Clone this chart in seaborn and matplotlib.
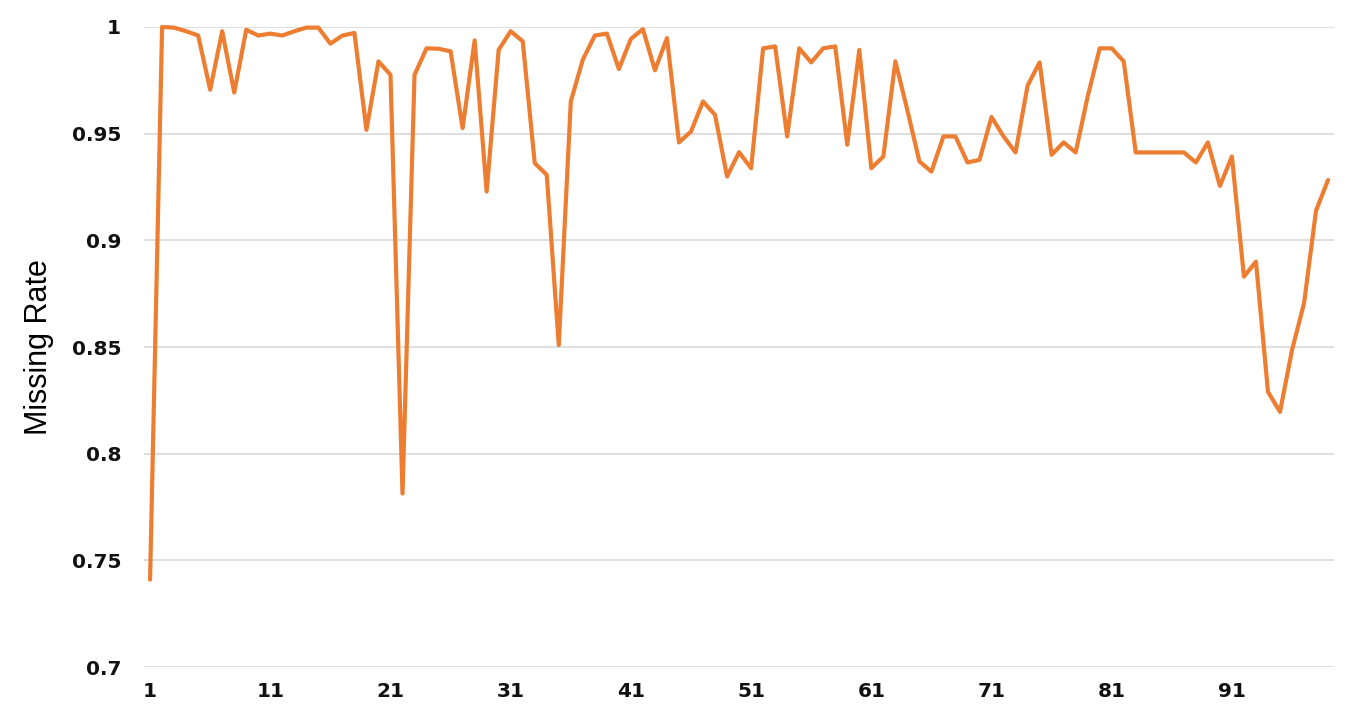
import matplotlib
matplotlib.use('Agg')
import matplotlib.pyplot as plt
import seaborn as sns
import pandas as pd

# Datos: tasa de valores faltantes por variable
indice = list(range(1, 100))
tasa_faltante = [
    0.741, 1.000, 0.9997, 0.998, 0.996, 0.9706, 0.998, 0.9693, 0.9987, 0.996,
    0.9969, 0.996, 0.998, 0.9997, 0.9997, 0.9922, 0.996, 0.9972, 0.9518, 0.9839,
    0.9776, 0.7813, 0.9776, 0.990, 0.9898, 0.9886, 0.9526, 0.9937, 0.9229, 0.9893,
    0.998, 0.9933, 0.9362, 0.9307, 0.8509, 0.9651, 0.9847, 0.996, 0.9969, 0.9803,
    0.9944, 0.999, 0.9797, 0.9948, 0.9459, 0.951, 0.9651, 0.9588, 0.9299, 0.9413,
    0.9338, 0.990, 0.9909, 0.9487, 0.990, 0.9834, 0.990, 0.9909, 0.9448, 0.9893,
    0.9338, 0.9393, 0.9839, 0.961, 0.937, 0.9322, 0.9487, 0.9487, 0.9365, 0.9377,
    0.9578, 0.9487, 0.9412, 0.9725, 0.9834, 0.9401, 0.9459, 0.9412, 0.9674, 0.990,
    0.990, 0.9839, 0.9412, 0.9412, 0.9412, 0.9412, 0.9412, 0.9365, 0.9459, 0.9255,
    0.9393, 0.883, 0.890, 0.829, 0.8196, 0.8486, 0.8705, 0.914, 0.9283,
]
ticks_x = [1, 11, 21, 31, 41, 51, 61, 71, 81, 91]
ticks_y = [0.7, 0.75, 0.8, 0.85, 0.9, 0.95, 1.0]
etiquetas_y = ['0.7', '0.75', '0.8', '0.85', '0.9', '0.95', '1']

df = pd.DataFrame({'indice': indice, 'tasa': tasa_faltante})

sns.set_style('whitegrid')
plt.rcParams['font.family'] = ['DejaVu Sans']

fig = plt.figure(figsize=(13.54, 7.14), dpi=100)
ax = fig.add_axes([0.1064, 0.0658, 0.8789, 0.8964])

sns.lineplot(x='indice', y='tasa', data=df, color='#ED7D31', linewidth=3.0, ax=ax)
for l in ax.lines:
    l.set_clip_on(False)

ax.set_xlim(0.5, 99.5)
ax.set_ylim(0.7, 1.0)
ax.set_xticks(ticks_x)
ax.set_yticks(ticks_y)
ax.set_yticklabels(etiquetas_y)
ax.tick_params(axis='both', labelsize=14.5, colors='#111111', length=0)
ax.tick_params(axis='y', pad=16.5)
ax.tick_params(axis='x', pad=11)
for t in ax.get_xticklabels() + ax.get_yticklabels():
    t.set_fontweight('bold')
ax.grid(axis='x', visible=False)
ax.grid(axis='y', color='#d9d9d9', linewidth=1.2)
for s in ax.spines.values():
    s.set_visible(False)

ax.set_xlabel('')
ax.set_ylabel('Missing Rate', fontsize=22, family=['Liberation Sans', 'DejaVu Sans'],
              color='black', labelpad=13)

fig.savefig('out.png', dpi=100)
